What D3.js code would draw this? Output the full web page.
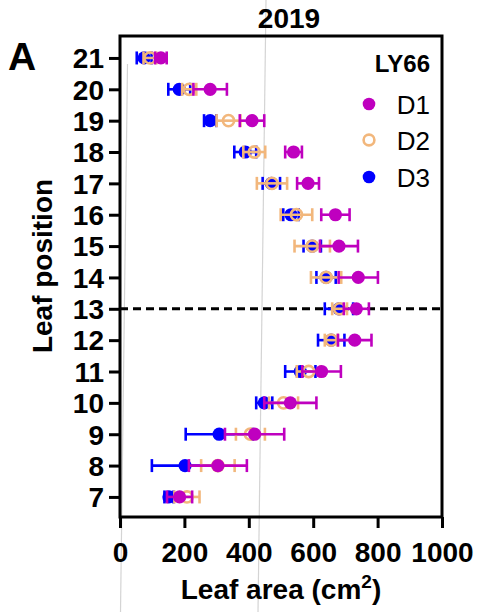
<!DOCTYPE html>
<html>
<head>
<meta charset="utf-8">
<script src="https://cdn.jsdelivr.net/npm/d3@7"></script>
<style>
  html, body { margin: 0; padding: 0; background: #fff; }
  svg { display: block; font-family: "Liberation Sans", Arial, sans-serif; }
</style>
</head>
<body>
<svg id="chart" width="480" height="612"></svg>
<script>
// ---- Data ----
const positions = [21, 20, 19, 18, 17, 16, 15, 14, 13, 12, 11, 10, 9, 8, 7];
const d1Mean = [127, 280, 410, 539, 584, 669, 680, 740, 734, 729, 626, 529, 418, 304, 185];
const d1Err  = [18, 52, 38, 26, 34, 44, 59, 61, 39, 52, 60, 81, 92, 90, 39];
const d2Mean = [93, 215, 337, 417, 472, 548, 597, 640, 682, 656, 586, 508, 405, 304, 208];
const d2Err  = [20, 22, 37, 34, 47, 49, 55, 47, 23, 20, 37, 45, 45, 52, 39];
const d3Mean = [75, 184, 280, 389, 470, 531, 597, 640, 680, 656, 560, 448, 308, 202, 152];
const d3Err  = [23, 34, 19, 34, 27, 24, 27, 30, 44, 41, 47, 25, 104, 103, 14];
const xTicks = [0, 200, 400, 600, 800, 1000];
const seriesNames = ["D1", "D2", "D3"];
const refLine = 13;

// ---- Layout ----
const svg = d3.select("#chart");
const pL = 120, pR = 442, pT = 36, pB = 517;
const x = d3.scaleLinear().domain([0, 1000]).range([pL, pR]);
const y = d3.scaleLinear().domain([6.36, 21.7]).range([pB, pT]);

const colors = { D1: "#BF00BF", D2: "#F2B77C", D3: "#0000FF" };

// faint scan artefact lines
svg.append("line").attr("x1", 266).attr("y1", 0).attr("x2", 258).attr("y2", 612)
  .attr("stroke", "#d4d4d4").attr("stroke-width", 1.2);
svg.append("line").attr("x1", 127.5).attr("y1", 64).attr("x2", 120.5).attr("y2", 612)
  .attr("stroke", "#d4d4d4").attr("stroke-width", 1.2);

// dashed reference line
svg.append("line")
  .attr("x1", x(0)).attr("x2", x(1000))
  .attr("y1", y(refLine)).attr("y2", y(refLine))
  .attr("stroke", "#000").attr("stroke-width", 3)
  .attr("stroke-dasharray", "8,5");

// series
const series = [
  { name: "D3", mean: d3Mean, err: d3Err, fill: true },
  { name: "D2", mean: d2Mean, err: d2Err, fill: false },
  { name: "D1", mean: d1Mean, err: d1Err, fill: true }
];
const capH = 6.5;
series.forEach(s => {
  const data = positions.map((p, i) => ({ p, m: s.mean[i], e: s.err[i] }));
  const g = svg.append("g");
  const c = colors[s.name];
  g.selectAll("line.bar").data(data).join("line").attr("class", "bar")
    .attr("x1", d => x(d.m - d.e)).attr("x2", d => x(d.m + d.e))
    .attr("y1", d => y(d.p)).attr("y2", d => y(d.p))
    .attr("stroke", c).attr("stroke-width", 2.6);
  g.selectAll("line.capl").data(data).join("line").attr("class", "capl")
    .attr("x1", d => x(d.m - d.e)).attr("x2", d => x(d.m - d.e))
    .attr("y1", d => y(d.p) - capH).attr("y2", d => y(d.p) + capH)
    .attr("stroke", c).attr("stroke-width", 2.6);
  g.selectAll("line.capr").data(data).join("line").attr("class", "capr")
    .attr("x1", d => x(d.m + d.e)).attr("x2", d => x(d.m + d.e))
    .attr("y1", d => y(d.p) - capH).attr("y2", d => y(d.p) + capH)
    .attr("stroke", c).attr("stroke-width", 2.6);
  g.selectAll("circle").data(data).join("circle")
    .attr("cx", d => x(d.m)).attr("cy", d => y(d.p))
    .attr("r", s.fill ? 6.6 : 5.6)
    .attr("fill", s.fill ? c : "none")
    .attr("stroke", s.fill ? "none" : c)
    .attr("stroke-width", s.fill ? 0 : 2.6);
});

// frame
svg.append("rect").attr("x", pL).attr("y", pT)
  .attr("width", pR - pL).attr("height", pB - pT)
  .attr("fill", "none").attr("stroke", "#000").attr("stroke-width", 3);

// axes
const yAxis = d3.axisLeft(y).tickValues(positions).tickFormat(d3.format("d"))
  .tickSize(11).tickPadding(5).tickSizeOuter(0);
const gy = svg.append("g").attr("transform", `translate(${pL},0)`).call(yAxis);
gy.select(".domain").remove();
gy.selectAll(".tick line").attr("stroke", "#000").attr("stroke-width", 3);
gy.selectAll(".tick text").attr("font-size", 28).attr("font-weight", "bold")
  .attr("fill", "#000").attr("font-family", "Liberation Sans, Arial, sans-serif")
  .attr("dy", "0.35em");

const xAxis = d3.axisBottom(x).tickValues(xTicks).tickFormat(d3.format("d"))
  .tickSize(11).tickPadding(14).tickSizeOuter(0);
const gx = svg.append("g").attr("transform", `translate(0,${pB})`).call(xAxis);
gx.select(".domain").remove();
gx.selectAll(".tick line").attr("stroke", "#000").attr("stroke-width", 3);
gx.selectAll(".tick text").attr("font-size", 28).attr("font-weight", "bold")
  .attr("fill", "#000").attr("font-family", "Liberation Sans, Arial, sans-serif");

// titles
svg.append("text").attr("x", 289).attr("y", 28).attr("text-anchor", "middle")
  .attr("font-size", 28).attr("font-weight", "bold").text("2019");
svg.append("text").attr("x", 8).attr("y", 70)
  .attr("font-size", 39).attr("font-weight", "bold").text("A");
svg.append("text").attr("transform", "translate(52,266) rotate(-90)")
  .attr("text-anchor", "middle").attr("font-size", 28).attr("font-weight", "bold")
  .text("Leaf position");
const xt = svg.append("text").attr("x", 281).attr("y", 599).attr("text-anchor", "middle")
  .attr("font-size", 28).attr("font-weight", "bold");
xt.append("tspan").text("Leaf area (cm");
xt.append("tspan").attr("font-size", 19).attr("dy", -11).text("2");
xt.append("tspan").attr("dy", 11).text(")");

// legend
svg.append("text").attr("x", 430).attr("y", 72).attr("text-anchor", "end")
  .attr("font-size", 24).attr("font-weight", "bold").text("LY66");
const legY = [104, 140, 177];
seriesNames.forEach((n, i) => {
  const filled = n !== "D2";
  svg.append("circle").attr("cx", 369).attr("cy", legY[i])
    .attr("r", filled ? 6.3 : 5.4)
    .attr("fill", filled ? colors[n] : "none")
    .attr("stroke", filled ? "none" : colors[n]).attr("stroke-width", 2.6);
  svg.append("text").attr("x", 430).attr("y", legY[i] + 9.5).attr("text-anchor", "end")
    .attr("font-size", 26).text(n);
});
</script>
</body>
</html>
